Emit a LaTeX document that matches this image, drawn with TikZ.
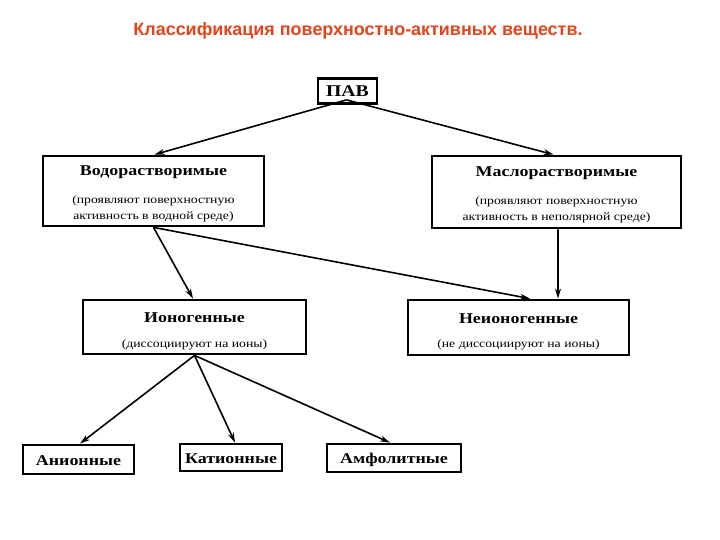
\documentclass[tikz,border=0pt]{standalone}
\usepackage{fontspec}
\setmainfont{Liberation Serif}
\newfontfamily\titlefont{Liberation Sans}
\newfontfamily\boxfont[FakeStretch=1.2]{Liberation Serif}
\usetikzlibrary{arrows.meta}
\definecolor{titlered}{RGB}{228,68,28}

\begin{document}
\begin{tikzpicture}[x=1bp,y=-1bp,
    box/.style={draw,line width=2.8bp,align=center,inner sep=0pt,font=\boxfont\fontsize{11.5}{16}\selectfont},
    head/.style={font=\boxfont\bfseries\fontsize{15}{16}\selectfont,text height=13.5bp,text depth=2bp},
    arr/.style={-{Stealth[length=10bp,width=6bp]},line width=1.6bp}]
           \useasboundingbox (0,0) rectangle (720,540);
           \node at (358,31) [font=\titlefont\bfseries\fontsize{18}{20}\selectfont,text=titlered] (title) {Классификация поверхностно-активных веществ.};
           % boxes
           \node at (347.5,91) [box,minimum width=59bp,minimum height=25bp,font=\boxfont\bfseries\fontsize{16.5}{18}\selectfont,text height=13bp,text depth=1bp] (pav) {ПАВ};
           \node at (153.5,191) [box,minimum width=221bp,minimum height=70bp] (vodo)
               {{\bfseries\fontsize{15}{16}\selectfont\rule{0pt}{15bp}Водорастворимые}\\[12bp]
                (проявляют поверхностную\\активность в водной среде)};
           \node at (556.5,192) [box,minimum width=249bp,minimum height=72bp] (maslo)
               {{\bfseries\fontsize{15}{16}\selectfont\rule{0pt}{15bp}Маслорастворимые}\\[12bp]
                (проявляют поверхностную\\активность в неполярной среде)};
           \node at (194.5,327) [box,minimum width=223bp,minimum height=54bp] (iono)
               {{\bfseries\fontsize{15}{16}\selectfont\rule{0pt}{18.5bp}Ионогенные}\\[9bp]
                (диссоциируют на ионы)};
           \node at (518.5,327.5) [box,minimum width=221bp,minimum height=55bp] (neiono)
               {{\bfseries\fontsize{15}{16}\selectfont\rule{0pt}{18.5bp}Неионогенные}\\[9bp]
                (не диссоциируют на ионы)};
           \node at (78.5,459.5) [box,head,minimum width=111bp,minimum height=29bp] (anion) {Анионные};
           \node at (231,457.5) [box,head,minimum width=102bp,minimum height=27bp] (kation) {Катионные};
           \node at (394,458) [box,head,minimum width=134bp,minimum height=28bp] (amfo) {Амфолитные};
           % arrows
           \draw[arr] ([shift={(-1bp,5bp)}]pav.south) to ([xshift=1bp]vodo.north);
           \draw[arr] ([shift={(-1bp,5bp)}]pav.south) to ([xshift=-3bp]maslo.north);
           \draw[arr] (vodo.south) to ([xshift=-1.5bp]iono.north);
           \draw[arr] (vodo.south) to ([xshift=11.5bp]neiono.north);
           \draw[arr] ([xshift=1.5bp]maslo.south) to ([xshift=39.5bp]neiono.north);
           \draw[arr] (iono.south) to ([xshift=1.5bp]anion.north);
           \draw[arr] (iono.south) to ([xshift=4bp]kation.north);
           \draw[arr] (iono.south) to ([xshift=-4bp]amfo.north);
\end{tikzpicture}
\end{document}
